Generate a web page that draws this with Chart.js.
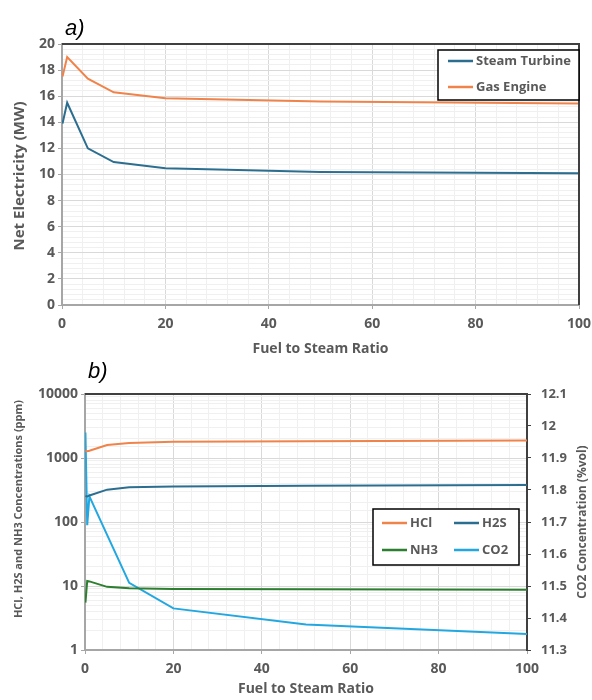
<!DOCTYPE html>
<html>
<head>
<meta charset="utf-8">
<script src="https://cdn.jsdelivr.net/npm/chart.js@4.4.1/dist/chart.umd.min.js"></script>
<style>
  body { margin: 0; background: #fff; }
  #wrap { position: relative; width: 592px; height: 700px; }
  canvas { position: absolute; left: 0; }
  #chartA { top: 0; }
  #chartB { top: 350px; }
  .tag { position: absolute; font: italic 22px 'Liberation Sans', Arial, sans-serif; line-height: 22px; color: #000; }
</style>
</head>
<body>
<div id="wrap">
  <canvas id="chartA" width="592" height="360"></canvas>
  <canvas id="chartB" width="592" height="350"></canvas>
  <div class="tag" style="left:65px;top:17px">a)</div>
  <div class="tag" style="left:88px;top:360px">b)</div>
</div>
<script>
// a) net electricity vs fuel to steam ratio
const ratioA = [0.1, 1, 5, 10, 20, 50, 100];
const steamTurbine = [13.9, 15.5, 12.0, 10.95, 10.47, 10.2, 10.1];
const gasEngine = [17.5, 19.0, 17.35, 16.3, 15.85, 15.6, 15.45];

// b) concentrations vs fuel to steam ratio
const ratioB = [0.1, 0.5, 1, 5, 10, 20, 50, 100];
const hcl = [1300, 1280, 1300, 1600, 1720, 1790, 1830, 1870];
const h2s = [255, 250, 260, 320, 350, 360, 370, 380];
const nh3 = [5.5, 12, 11.8, 9.7, 9.2, 9.0, 8.9, 8.7];
const co2 = [11.98, 11.69, 11.78, 11.66, 11.51, 11.43, 11.38, 11.35];

const FONT = "'Open Sans', sans-serif";
const GREY = '#595959';
const MAJOR = '#D9D9D9';
const MINOR = '#F0F0F0';
const AXIS = '#A6A6A6';

const pts = (xs, ys) => xs.map((x, i) => ({x: x, y: ys[i]}));
const near = (v, step) => Math.abs(v / step - Math.round(v / step)) < 1e-6;
const isPow10 = v => near(Math.log10(v), 1);

// dark top / right border of the plot
const frame = {
  id: 'frame',
  afterDatasetsDraw(chart, args, opts) {
    const {ctx, chartArea: a} = chart;
    ctx.save();
    ctx.strokeStyle = '#404040';
    ctx.lineWidth = 2;
    ctx.beginPath();
    ctx.moveTo(a.left, a.top);
    ctx.lineTo(a.right, a.top);
    if (opts.right) ctx.lineTo(a.right, a.bottom);
    ctx.stroke();
    ctx.restore();
  }
};

// boxed legend, laid out in a grid
const boxLegend = {
  id: 'boxLegend',
  afterDraw(chart, args, o) {
    const {ctx, chartArea: a} = chart;
    const x = a.right - o.dx - o.w, y = a.top + o.dy;
    ctx.save();
    ctx.fillStyle = '#fff';
    ctx.fillRect(x, y, o.w, o.h);
    ctx.strokeStyle = '#000';
    ctx.lineWidth = 1.5;
    ctx.strokeRect(x, y, o.w, o.h);
    ctx.font = 'bold 13px ' + FONT;
    ctx.textBaseline = 'middle';
    chart.data.datasets.forEach((ds, i) => {
      const col = i % o.cols, row = Math.floor(i / o.cols);
      const lx = x + o.padX + col * o.colW;
      const ly = y + o.padY + row * o.rowH;
      ctx.strokeStyle = ds.borderColor;
      ctx.lineWidth = 2.5;
      ctx.beginPath();
      ctx.moveTo(lx, ly);
      ctx.lineTo(lx + 25, ly);
      ctx.stroke();
      ctx.fillStyle = GREY;
      ctx.fillText(ds.label, lx + 28, ly);
    });
    ctx.restore();
  }
};

// vertical axis titles reading bottom-to-top like Excel
const sideTitles = {
  id: 'sideTitles',
  afterDraw(chart, args, o) {
    const ctx = chart.ctx;
    (o.items || []).forEach(t => {
      ctx.save();
      ctx.translate(t.x, t.y);
      ctx.rotate(-Math.PI / 2);
      ctx.font = 'bold ' + t.size + 'px ' + FONT;
      ctx.fillStyle = GREY;
      ctx.textAlign = 'center';
      ctx.textBaseline = 'middle';
      ctx.fillText(t.text, 0, 0);
      ctx.restore();
    });
  }
};

const tickFont = {family: FONT, size: 14, weight: 'bold'};

function xAxis(height) {
  return {
    type: 'linear', min: 0, max: 100,
    afterFit: s => { s.height = height; s.paddingLeft = 0; s.paddingRight = 0; },
    ticks: {
      stepSize: 4, autoSkip: false, maxRotation: 0, padding: 7,
      font: tickFont, color: GREY,
      callback: v => near(v, 20) ? v : ''
    },
    grid: {
      color: c => near(c.tick.value, 20) ? MAJOR : MINOR,
      tickColor: c => near(c.tick.value, 20) ? AXIS : 'rgba(0,0,0,0)',
      tickLength: 4
    },
    border: {color: AXIS, width: 2},
    title: {display: true, text: 'Fuel to Steam Ratio', font: {family: FONT, size: 14, weight: 'bold'}, color: GREY, padding: {top: 0, bottom: 3}}
  };
}

const line = (label, xs, ys, color, axis) => ({
  label: label, data: pts(xs, ys), borderColor: color, backgroundColor: color,
  borderWidth: 2, pointRadius: 0, fill: false, yAxisID: axis || 'y'
});

Chart.defaults.font.family = FONT;

new Chart(document.getElementById('chartA'), {
  type: 'line',
  data: {
    datasets: [
      line('Steam Turbine', ratioA, steamTurbine, '#2B6E90'),
      line('Gas Engine', ratioA, gasEngine, '#F0834A')
    ]
  },
  options: {
    responsive: false, animation: false, devicePixelRatio: 1,
    layout: {padding: {left: 0, top: 44, right: 13, bottom: 0}},
    plugins: {
      legend: {display: false}, tooltip: {enabled: false},
      boxLegend: {w: 141, h: 50, dx: 0, dy: 6, cols: 1, colW: 0, rowH: 26, padX: 10, padY: 11},
      frame: {right: true},
      sideTitles: {items: [{text: 'Net Electricity (MW)', x: 20, y: 176, size: 15}]}
    },
    scales: {
      x: xAxis(55),
      y: {
        min: 0, max: 20,
        afterFit: s => { s.width = 62; },
        ticks: {
          stepSize: 0.4, autoSkip: false, padding: 3,
          font: tickFont, color: GREY,
          callback: v => near(v, 2) ? Math.round(v) : ''
        },
        grid: {
          color: c => near(c.tick.value, 2) ? MAJOR : MINOR,
          tickColor: c => near(c.tick.value, 2) ? AXIS : 'rgba(0,0,0,0)',
          tickLength: 4
        },
        border: {color: AXIS, width: 2}
      }
    }
  },
  plugins: [frame, boxLegend, sideTitles]
});

new Chart(document.getElementById('chartB'), {
  type: 'line',
  data: {
    datasets: [
      line('HCl', ratioB, hcl, '#F0834A'),
      line('H2S', ratioB, h2s, '#2B6E90'),
      line('NH3', ratioB, nh3, '#2B7F2E'),
      line('CO2', ratioB, co2, '#22A7E0', 'y2')
    ]
  },
  options: {
    responsive: false, animation: false, devicePixelRatio: 1,
    layout: {padding: {left: 0, top: 44, right: 0, bottom: 0}},
    plugins: {
      legend: {display: false}, tooltip: {enabled: false},
      boxLegend: {w: 146, h: 56, dx: 8, dy: 115, cols: 2, colW: 72, rowH: 27, padX: 9, padY: 14},
      frame: {right: false},
      sideTitles: {items: [
        {text: 'HCl, H2S and NH3 Concentrations (ppm)', x: 19, y: 159, size: 11},
        {text: 'CO2 Concentration (%vol)', x: 583, y: 172, size: 12}
      ]}
    },
    scales: {
      x: xAxis(50),
      y: {
        type: 'logarithmic', min: 1, max: 10000,
        afterFit: s => { s.width = 85; },
        ticks: {
          autoSkip: false, padding: 3,
          font: tickFont, color: GREY,
          callback: v => isPow10(v) ? String(Math.round(v)) : ''
        },
        grid: {
          color: c => isPow10(c.tick.value) ? MAJOR : MINOR,
          tickColor: c => isPow10(c.tick.value) ? AXIS : 'rgba(0,0,0,0)',
          tickLength: 4
        },
        border: {color: AXIS, width: 2}
      },
      y2: {
        position: 'right', min: 11.3, max: 12.1,
        afterFit: s => { s.width = 65; },
        ticks: {
          stepSize: 0.1, autoSkip: false, padding: 10,
          font: {family: FONT, size: 13, weight: 'bold'}, color: GREY,
          callback: v => String(Math.round(v * 10) / 10)
        },
        grid: {drawOnChartArea: false, color: '#404040', tickLength: 4},
        border: {color: '#404040', width: 2}
      }
    }
  },
  plugins: [frame, boxLegend, sideTitles]
});
</script>
</body>
</html>
